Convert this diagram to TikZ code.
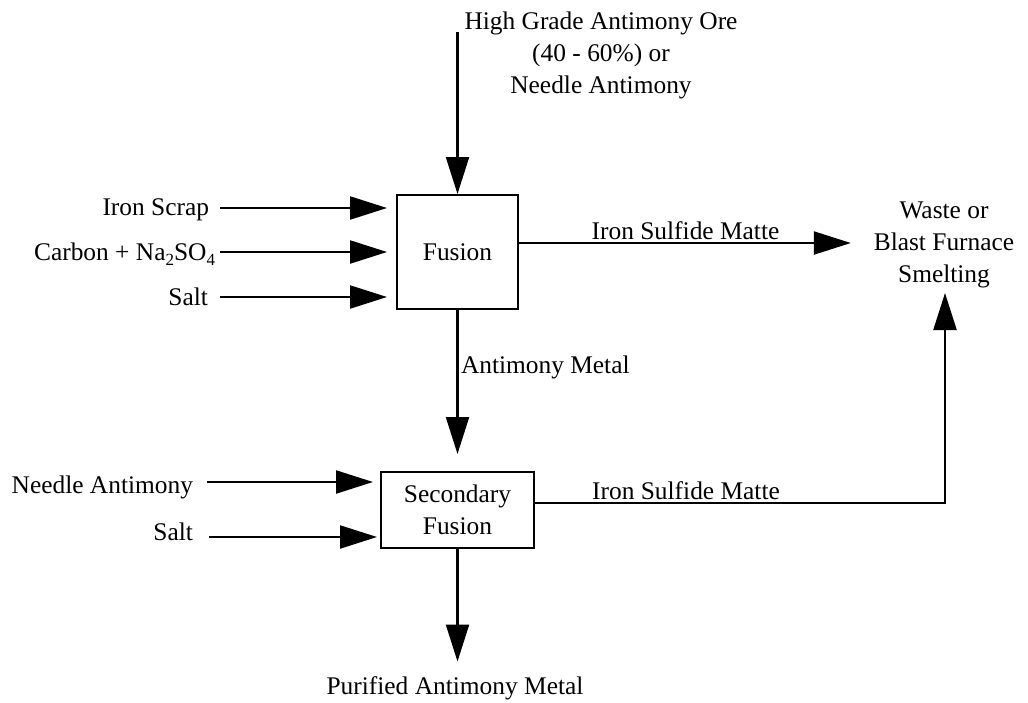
\documentclass[tikz,border=0pt]{standalone}
\usepackage{fontspec}
\setmainfont{Liberation Serif}
\usetikzlibrary{arrows.meta}
% chemical subscript, set a little lower than \textsubscript
\newcommand{\chemsub}[1]{\raisebox{-5.5pt}{\fontsize{17}{17}\selectfont #1}}
\begin{document}
\begin{tikzpicture}[x=1pt,y=-1pt,
  every node/.style={font=\fontsize{25.4}{32}\selectfont, inner sep=0pt, outer sep=0pt},
  box/.style={draw, line width=2.2pt, align=center},
  lbl/.style={align=center},
  flow/.style={line width=2.2pt, -{Triangle[length=37pt,width=23pt]}}]
\useasboundingbox (0,0) rectangle (1028,702);

% process boxes
\node[box, minimum width=121pt, minimum height=114pt] (fusion) at (457.5,252) {Fusion};
\node[box, minimum width=153pt, minimum height=76pt] (sec) at (457.5,510) {Secondary\\Fusion};

% feed and product labels (multi-line labels sit on their last baseline)
\node[lbl, anchor=base] (ore) at (601,93) {High Grade Antimony Ore\\(40 - 60\%) or\\Needle Antimony};
\node[anchor=base east] (iron) at (209,215) {Iron Scrap};
\node[anchor=base east] (carbon) at (215,260) {Carbon + Na\chemsub{2}SO\chemsub{4}};
\node[anchor=base east] (salt) at (208,305) {Salt};
\node[anchor=base east] (needle) at (193,493) {Needle Antimony};
\node[anchor=base east] (salttwo) at (193,540) {Salt};
\node[lbl, anchor=base] (waste) at (944,282) {Waste or\\Blast Furnace\\Smelting};
\node[anchor=base] (purified) at (455,694) {Purified Antimony Metal};
\node[anchor=base] (mattea) at (685.5,239) {Iron Sulfide Matte};
\node[anchor=base] (matteb) at (686,499) {Iron Sulfide Matte};
\node[anchor=base west] (metal) at (461,373) {Antimony Metal};

\coordinate (orein) at (457.5,32);
\coordinate (wastein) at (945,293);

% ore feed
\draw[flow, shorten >=1pt] (orein) -- (fusion.north);

% fusion feeds
\draw[flow, shorten >=10pt] ([xshift=11pt,yshift=7pt]iron.base east) coordinate (f1) -- (f1 -| fusion.west);
\draw[flow, shorten >=10pt] ([xshift=5pt,yshift=8pt]carbon.base east) coordinate (f2) -- (f2 -| fusion.west);
\draw[flow, shorten >=10pt] ([xshift=12pt,yshift=8pt]salt.base east) coordinate (f3) -- (f3 -| fusion.west);

% matte from fusion
\draw[flow, shorten >=23pt] ([yshift=9pt]fusion.east) coordinate (m1) -- (m1 -| waste.west);

% metal to secondary fusion
\draw[flow, shorten >=18pt] (fusion.south) -- (sec.north);

% secondary fusion feeds
\draw[flow, shorten >=8pt] ([xshift=14pt,yshift=11pt]needle.base east) coordinate (s1) -- (s1 -| sec.west);
\draw[flow, shorten >=4pt] ([xshift=16pt,yshift=3pt]salttwo.base east) coordinate (s2) -- (s2 -| sec.west);

% matte from secondary fusion
\draw[flow] ([yshift=7pt]sec.east) -| (wastein);

% purified product
\draw[flow, shorten >=14.6pt] (sec.south) -- (sec.south |- purified.north);
\end{tikzpicture}
\end{document}
